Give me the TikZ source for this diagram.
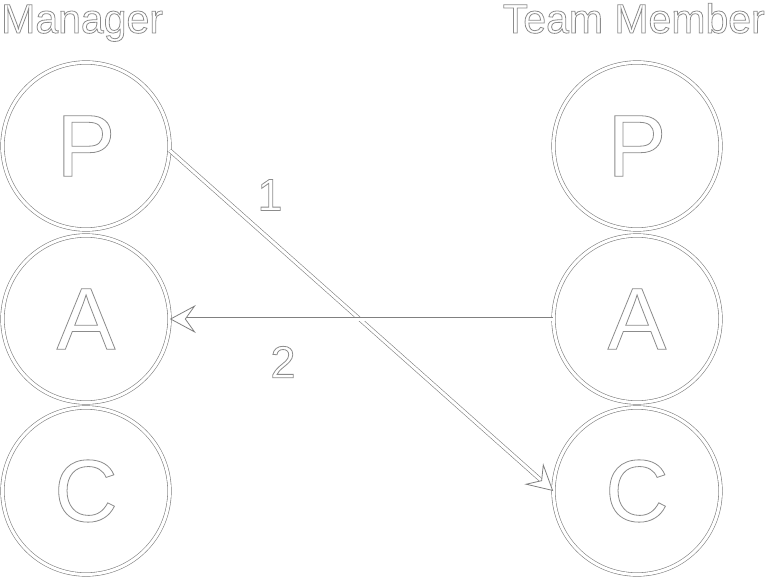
\documentclass[tikz,border=0pt]{standalone}
\usepackage{fontspec}
\setmainfont{Liberation Sans}
\usepackage{tikz}
\usetikzlibrary{arrows.meta}

% outlined text: white fill, grey stroke
\newcommand{\outl}[1]{\special{pdf:literal q 2 Tr 0.8 w 0.55 G}#1\special{pdf:literal Q}}

\begin{document}
\begin{tikzpicture}[x=1pt,y=-1pt,
        ring/.style={circle, draw=black!50, line width=0.6pt, double=white, double distance=3pt,
                     minimum size=167pt, inner sep=0pt, font=\fontsize{88}{88}\selectfont, text=white},
        title/.style={font=\fontsize{41}{41}\selectfont, text=white, inner sep=0pt},
        num/.style={font=\fontsize{45}{45}\selectfont, text=white, inner sep=0pt},
        conn/.style={draw=black!50, line width=0.6pt, double=white, double distance=3pt,
                     -{Stealth[length=26pt, width=28pt, inset=10pt, fill=white, line width=0.8pt]}}]
        \def\xL{86}                                 % centre of the manager column
        \def\xR{637}                                % centre of the team member column
        \def\yP{146}                                % parent row
        \def\yA{319}                                % adult row
        \def\yC{491}                                % child row

        \useasboundingbox (0,0) rectangle (767,585);

        % titles
        \node[title, anchor=base west] (mgr) at (1,33) {\outl{Manager}};
        \node[title, anchor=base east] (tm) at (765,33) {\outl{Team Member}};

        % ego states of the manager
        \node[ring] (mgrP) at (\xL,\yP) {\outl{P}};
        \node[ring] (mgrA) at (\xL,\yA) {\outl{A}};
        \node[ring] (mgrC) at (\xL,\yC) {\outl{C}};

        % ego states of the team member
        \node[ring] (tmP) at (\xR,\yP) {\outl{P}};
        \node[ring] (tmA) at (\xR,\yA) {\outl{A}};
        \node[ring] (tmC) at (\xR,\yC) {\outl{C}};

        % transactions
        \draw[conn] (mgrP.-3) -- (tmC.west);
        \node[num] (one) at (270,195) {\outl{1}};
        \draw[conn] (tmA.west) -- (mgrA.east);
        \node[num] (two) at (283,362) {\outl{2}};

\end{tikzpicture}
\end{document}
